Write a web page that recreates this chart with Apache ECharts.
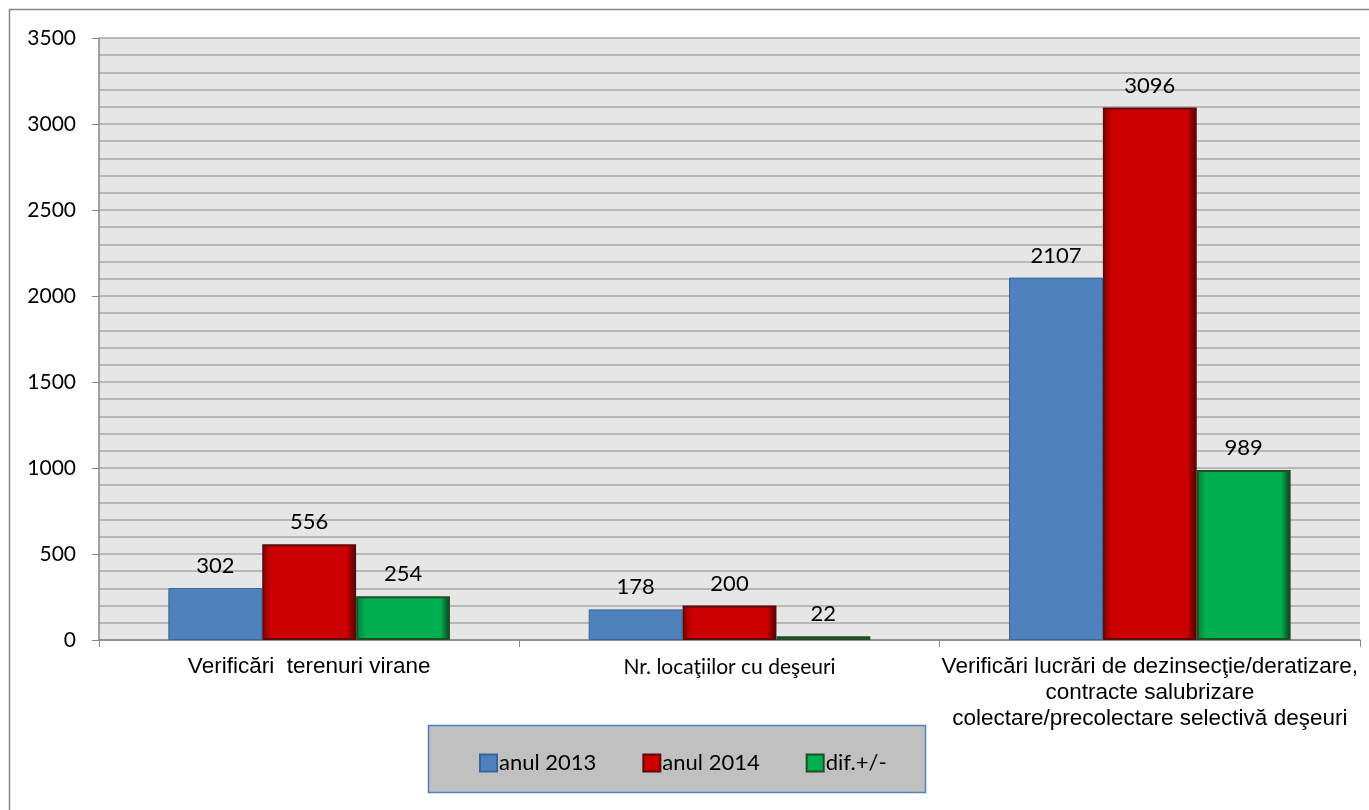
<!DOCTYPE html>
<html>
<head>
<meta charset="utf-8">
<script src="https://cdn.jsdelivr.net/npm/echarts@6/dist/echarts.min.js"></script>
<style>
  html, body { margin: 0; padding: 0; background: #fff; }
  #chart { width: 1369px; height: 810px; }
</style>
</head>
<body>
<div id="chart"></div>
<script>
// date
var categories = [
  'Verificări  terenuri virane',
  'Nr. locaţiilor cu deşeuri',
  'Verificări lucrări de dezinsecţie/deratizare,\ncontracte salubrizare\ncolectare/precolectare selectivă deşeuri'
];
var seriesNames = ['anul 2013', 'anul 2014', 'dif.+/-'];
var anul2013 = [302, 178, 2107];
var anul2014 = [556, 200, 3096];
var diferenta = [254, 22, 989];

var myChart = echarts.init(document.getElementById('chart'));

var labelFont = 'Lato, "Open Sans", sans-serif';
var arialFont = '"Liberation Sans", Arial, sans-serif';

// gradient "bevel" pentru barele rosu / verde
function bevel(light, mid, dark) {
  return new echarts.graphic.LinearGradient(0, 0, 1, 0, [
    { offset: 0, color: light },
    { offset: 0.1, color: mid },
    { offset: 0.9, color: mid },
    { offset: 1, color: dark }
  ]);
}

var dataLabel = {
  show: true,
  position: 'top',
  distance: 11,
  color: '#000',
  fontSize: 22,
  fontFamily: labelFont
};

// eticheta din mijloc are alt font (mai mic)
var catData = categories.map(function (c, i) {
  if (i === 1) {
    return { value: c, textStyle: { fontSize: 21, fontFamily: labelFont } };
  }
  return { value: c };
});

var option = {
  animation: false,
  backgroundColor: '#fff',
  graphic: [
    {
      type: 'rect',
      shape: { x: 9.5, y: 9.5, width: 1380, height: 820 },
      style: { fill: 'none', stroke: '#878787', lineWidth: 1.5 },
      z: -1
    },
    {
      type: 'rect',
      shape: { x: 428.5, y: 725.5, width: 497, height: 67 },
      style: { fill: '#c0c0c0', stroke: '#4f81bd', lineWidth: 1.5 },
      z: 0
    }
  ],
  legend: {
    data: seriesNames,
    left: 474,
    top: 747,
    itemWidth: 17,
    itemHeight: 17,
    itemGap: 46,
    icon: 'rect',
    textStyle: { fontSize: 22, fontFamily: labelFont, color: '#000', padding: [0, 0, 0, -3] },
    z: 5
  },
  grid: {
    left: 99,
    top: 38,
    right: 9,
    bottom: 170,
    show: true,
    backgroundColor: '#e6e6e6',
    borderWidth: 0
  },
  xAxis: {
    type: 'category',
    data: catData,
    axisLine: { lineStyle: { color: '#878787', width: 1.5 } },
    axisTick: { show: true, length: 7, lineStyle: { color: '#878787' } },
    axisLabel: {
      interval: 0,
      margin: 14,
      color: '#000',
      fontSize: 22.5,
      lineHeight: 26,
      fontFamily: arialFont
    }
  },
  yAxis: {
    type: 'value',
    min: 0,
    max: 3500,
    interval: 500,
    axisLine: { show: true, lineStyle: { color: '#878787', width: 1.5 } },
    axisTick: { show: true, length: 7, lineStyle: { color: '#878787' } },
    axisLabel: {
      margin: 23,
      color: '#000',
      fontSize: 21,
      fontFamily: labelFont,
      formatter: function (v) { return String(v); }
    },
    splitLine: { lineStyle: { color: '#a9a9a9', width: 1.5 } },
    minorTick: { show: false, splitNumber: 5 },
    minorSplitLine: { show: true, lineStyle: { color: '#a9a9a9', width: 1.5 } }
  },
  series: [
    {
      name: seriesNames[0],
      type: 'bar',
      data: anul2013,
      barGap: '0%',
      barCategoryGap: '33%',
      itemStyle: { color: '#4f81bd', borderColor: '#3a6599', borderWidth: 1 },
      label: dataLabel
    },
    {
      name: seriesNames[1],
      type: 'bar',
      data: anul2014,
      itemStyle: {
        color: bevel('#8a0000', '#cc0000', '#4a0000'),
        borderColor: '#5c0b0b',
        borderWidth: 2
      },
      label: dataLabel
    },
    {
      name: seriesNames[2],
      type: 'bar',
      data: diferenta,
      itemStyle: {
        color: bevel('#0a7a3a', '#00b050', '#0b3d1f'),
        borderColor: '#1f4d24',
        borderWidth: 2
      },
      label: dataLabel
    }
  ]
};

myChart.setOption(option);
</script>
</body>
</html>
